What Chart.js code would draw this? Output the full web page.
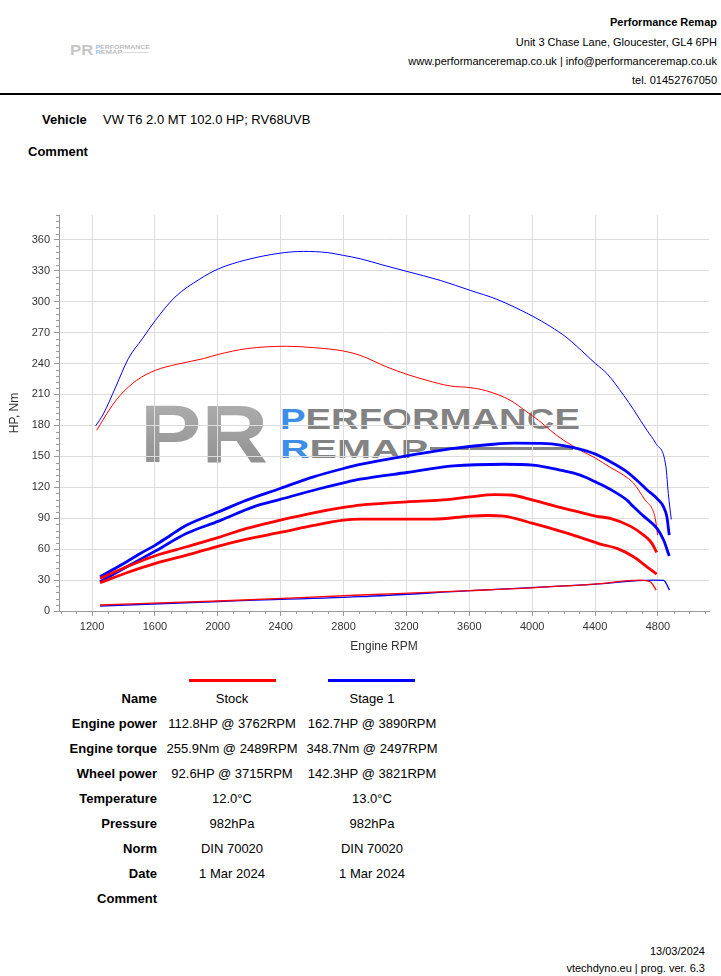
<!DOCTYPE html>
<html>
<head>
<meta charset="utf-8">
<script src="https://cdn.jsdelivr.net/npm/chart.js@4.4.1/dist/chart.umd.min.js"></script>
<style>
  body { margin: 0; background: #fff; font-family: 'Liberation Sans', Arial, sans-serif; color: #000; }
  #page { position: relative; width: 721px; height: 976px; overflow: hidden; }
  .abs { position: absolute; white-space: nowrap; }
  .hdr { right: 4px; font-size: 11px; line-height: 14px; }
  .lbl { left: 0; width: 157px; text-align: right; font-weight: bold; font-size: 13px; line-height: 16px; }
  .c1 { left: 162px; width: 140px; text-align: center; font-size: 13px; line-height: 16px; }
  .c2 { left: 302px; width: 140px; text-align: center; font-size: 13px; line-height: 16px; }
  #dyno { position: absolute; left: 0; top: 200px; }
</style>
</head>
<body>
<div id="page">
  <!-- kopf -->
  <svg class="abs" style="left:70px;top:44px;opacity:0.55" width="80" height="11" viewBox="0 0 440 60">
    <text x="0" y="59" font-family="Liberation Sans" font-weight="bold" font-size="82" fill="#999" textLength="128" lengthAdjust="spacingAndGlyphs">PR</text>
    <text x="140" y="26" font-family="Liberation Sans" font-weight="bold" font-size="29" fill="#888" textLength="300" lengthAdjust="spacingAndGlyphs"><tspan fill="#3d8ee6">P</tspan>ERFORMANCE</text>
    <text x="140" y="55" font-family="Liberation Sans" font-weight="bold" font-size="25" fill="#888" textLength="148" lengthAdjust="spacingAndGlyphs"><tspan fill="#3d8ee6">R</tspan>EMAP</text>
    <rect x="290" y="44" width="143" height="3" fill="#888"/>
  </svg>
  <div class="abs hdr" style="top:15px;font-weight:bold">Performance Remap</div>
  <div class="abs hdr" style="top:35px">Unit 3 Chase Lane, Gloucester, GL4 6PH</div>
  <div class="abs hdr" style="top:54px">www.performanceremap.co.uk | info@performanceremap.co.uk</div>
  <div class="abs hdr" style="top:73px">tel. 01452767050</div>
  <div class="abs" style="left:0;top:93px;width:721px;height:2px;background:#000"></div>

  <div class="abs" style="left:42px;top:112px;font-size:13px;line-height:16px;font-weight:bold">Vehicle</div>
  <div class="abs" style="left:103px;top:112px;font-size:13px;line-height:16px">VW T6 2.0 MT 102.0 HP; RV68UVB</div>
  <div class="abs" style="left:28px;top:144px;font-size:13px;line-height:16px;font-weight:bold">Comment</div>

  <!-- wasserzeichen hinter dem diagramm -->
  <svg class="abs" style="left:140px;top:403px" width="440" height="60" viewBox="0 0 440 60">
    <defs>
      <linearGradient id="g" x1="0" y1="0" x2="0" y2="1">
        <stop offset="0" stop-color="#b4b4b4"/>
        <stop offset="1" stop-color="#8a8a8a"/>
      </linearGradient>
    </defs>
    <text x="0" y="59" font-family="Liberation Sans" font-weight="bold" font-size="82" fill="url(#g)" textLength="128" lengthAdjust="spacingAndGlyphs">PR</text>
    <text x="140" y="26" font-family="Liberation Sans" font-weight="bold" font-size="29" fill="#838383" textLength="300" lengthAdjust="spacingAndGlyphs"><tspan fill="#3d8ee6">P</tspan>ERFORMANCE</text>
    <text x="140" y="55" font-family="Liberation Sans" font-weight="bold" font-size="25" fill="#838383" textLength="148" lengthAdjust="spacingAndGlyphs"><tspan fill="#3d8ee6">R</tspan>EMAP</text>
    <rect x="290" y="44" width="143" height="3" fill="#838383"/>
  </svg>

  <canvas id="dyno" width="721" height="470"></canvas>

  <!-- legende + tabelle -->
  <div class="abs" style="left:189px;top:679px;width:87px;height:3px;background:#ff0000"></div>
  <div class="abs" style="left:328px;top:679px;width:87px;height:3px;background:#0000ff"></div>

  <div class="abs lbl" style="top:691px">Name</div>
  <div class="abs c1" style="top:691px">Stock</div>
  <div class="abs c2" style="top:691px">Stage 1</div>
  <div class="abs lbl" style="top:716px">Engine power</div>
  <div class="abs c1" style="top:716px">112.8HP @ 3762RPM</div>
  <div class="abs c2" style="top:716px">162.7HP @ 3890RPM</div>
  <div class="abs lbl" style="top:741px">Engine torque</div>
  <div class="abs c1" style="top:741px">255.9Nm @ 2489RPM</div>
  <div class="abs c2" style="top:741px">348.7Nm @ 2497RPM</div>
  <div class="abs lbl" style="top:766px">Wheel power</div>
  <div class="abs c1" style="top:766px">92.6HP @ 3715RPM</div>
  <div class="abs c2" style="top:766px">142.3HP @ 3821RPM</div>
  <div class="abs lbl" style="top:791px">Temperature</div>
  <div class="abs c1" style="top:791px">12.0°C</div>
  <div class="abs c2" style="top:791px">13.0°C</div>
  <div class="abs lbl" style="top:816px">Pressure</div>
  <div class="abs c1" style="top:816px">982hPa</div>
  <div class="abs c2" style="top:816px">982hPa</div>
  <div class="abs lbl" style="top:841px">Norm</div>
  <div class="abs c1" style="top:841px">DIN 70020</div>
  <div class="abs c2" style="top:841px">DIN 70020</div>
  <div class="abs lbl" style="top:866px">Date</div>
  <div class="abs c1" style="top:866px">1 Mar 2024</div>
  <div class="abs c2" style="top:866px">1 Mar 2024</div>
  <div class="abs lbl" style="top:891px">Comment</div>

  <div class="abs" style="right:16px;top:944px;font-size:11px;line-height:14px">13/03/2024</div>
  <div class="abs" style="right:16px;top:961px;font-size:11px;line-height:14px">vtechdyno.eu | prog. ver. 6.3</div>
</div>

<script>
// Achsen
const rpmTicks = [1200, 1600, 2000, 2400, 2800, 3200, 3600, 4000, 4400, 4800];
const valueTicks = [0, 30, 60, 90, 120, 150, 180, 210, 240, 270, 300, 330, 360];

// Stock - Drehmoment (Nm)
const stockTorqueRpm = [1230, 1315, 1378, 1484, 1603, 1739, 1909, 2006, 2184, 2439, 2608, 2800, 2906, 3076, 3203, 3330, 3479, 3606, 3712, 3860, 3967, 4040, 4115, 4200, 4306, 4400, 4497, 4582, 4645, 4677, 4719, 4762, 4783, 4798];
const stockTorque = [175.3, 196.3, 209, 223.7, 233.4, 239.2, 244.7, 248.9, 254.4, 256.7, 255.4, 252.1, 247.9, 236.6, 229.5, 223.7, 218.2, 216.6, 213.4, 204.4, 193, 185, 175.3, 165.6, 155.9, 148.5, 139.2, 131.7, 124, 117.2, 107.5, 99.5, 89.8, 73.6];

// Stage 1 - Drehmoment (Nm)
const stage1TorqueRpm = [1223, 1272, 1350, 1431, 1520, 1603, 1728, 1887, 2006, 2184, 2397, 2545, 2700, 2800, 2906, 3050, 3203, 3415, 3606, 3776, 4005, 4115, 4221, 4403, 4476, 4582, 4645, 4688, 4730, 4787, 4851, 4866, 4885];
const stage1Torque = [179.5, 191, 217, 244.7, 264, 281.8, 304.4, 322, 331.9, 340.6, 347, 348.7, 347.5, 344.8, 341.6, 335.5, 329.3, 320.6, 310.9, 302.2, 285.7, 276, 265, 239.9, 230.2, 209.2, 195.3, 185, 175.3, 162.4, 139.8, 114, 88.8];

// Stage 1 - Motorleistung (HP)
const stage1PowerRpm = [1251, 1330, 1421, 1510, 1603, 1700, 1803, 2006, 2184, 2397, 2609, 2800, 2906, 3203, 3500, 3754, 3890, 4094, 4242, 4403, 4518, 4603, 4688, 4730, 4794, 4836, 4857, 4872];
const stage1Power = [33.2, 40, 47.8, 56, 63.9, 73.5, 83.3, 96.2, 107.5, 118.8, 130.1, 138.2, 142.1, 150.4, 157.6, 161.7, 162.7, 162.4, 159.1, 152.1, 143, 134.9, 123.7, 117.5, 109.1, 101, 91.3, 73.6];

// Stage 1 - Radleistung (HP)
const stage1WheelRpm = [1251, 1421, 1603, 1803, 2006, 2227, 2397, 2652, 2800, 2906, 3203, 3500, 3821, 4005, 4178, 4306, 4403, 4497, 4603, 4645, 4709, 4794, 4836, 4872];
const stage1Wheel = [28.4, 42.9, 58.1, 75.3, 87.2, 101, 108.2, 118.8, 124.3, 127.8, 134.3, 140.7, 142.3, 141.4, 136.6, 131.7, 125.2, 118, 107.5, 101, 92, 80.1, 68.8, 53.3];

// Stock - Motorleistung (HP)
const stockPowerRpm = [1251, 1421, 1603, 1803, 2006, 2184, 2397, 2609, 2800, 2906, 3203, 3415, 3606, 3762, 3860, 4005, 4178, 4306, 4403, 4497, 4624, 4709, 4762, 4792];
const stockPower = [31.7, 42.9, 53.6, 62.3, 71.4, 80.1, 88.1, 95.2, 100.4, 102.7, 105.9, 107.5, 110.7, 112.8, 112.5, 107.5, 100.4, 95.6, 92, 89.8, 82.3, 73.6, 65.6, 56.8];

// Stock - Radleistung (HP)
const stockWheelRpm = [1251, 1421, 1603, 1845, 2006, 2184, 2397, 2609, 2800, 2906, 3373, 3606, 3715, 3818, 4005, 4178, 4306, 4433, 4539, 4645, 4730, 4792];
const stockWheel = [27.4, 37.1, 46.2, 55.9, 63, 69.7, 76.2, 83, 88.1, 89.1, 89.1, 92, 92.6, 92, 84.9, 77.5, 71.4, 64.9, 60.7, 52.6, 42.9, 35.8];

// Verlustleistung (HP)
const stockLossRpm = [1251, 2006, 2906, 3606, 4391, 4688, 4751, 4789];
const stockLoss = [5.8, 9.7, 15.5, 19.7, 26.1, 30, 28.4, 20.3];
const stage1LossRpm = [1251, 2006, 2906, 3606, 4391, 4773, 4836, 4874];
const stage1Loss = [4.8, 9.2, 13.9, 19.7, 25.9, 30, 29.7, 20.3];

function pts(xs, ys) {
    return xs.map((x, i) => ({ x: x, y: ys[i] }));
}

function line(label, xs, ys, color, width) {
    return {
        label: label,
        data: pts(xs, ys),
        borderColor: color,
        borderWidth: width,
        pointRadius: 0,
        fill: false,
        cubicInterpolationMode: 'monotone'
    };
}

const RED = '#ff0000';
const BLUE = '#0000ff';

// kleine Teilstriche an den Achsen
const minorTicks = {
    id: 'minorTicks',
    afterDraw(chart) {
        const c = chart.ctx;
        const x = chart.scales.x, y = chart.scales.y, area = chart.chartArea;
        c.save();
        c.strokeStyle = '#999';
        c.lineWidth = 1;
        c.beginPath();
        for (let v = 0; v <= y.max; v += 6) {
            if (v % 30 === 0) continue;
            const py = Math.round(y.getPixelForValue(v)) + 0.5;
            c.moveTo(area.left - 3, py);
            c.lineTo(area.left, py);
        }
        for (let v = 1000; v <= x.max; v += 100) {
            if (v % 400 === 0) continue;
            const px = Math.round(x.getPixelForValue(v)) + 0.5;
            c.moveTo(px, area.bottom);
            c.lineTo(px, area.bottom + 3);
        }
        c.stroke();
        c.restore();
    }
};

const tickFont = { family: "'Liberation Sans', Arial, sans-serif", size: 11 };

new Chart(document.getElementById('dyno'), {
    type: 'line',
    data: {
        datasets: [
            line('Stock Verlust', stockLossRpm, stockLoss, RED, 1.3),
            line('Stage 1 Verlust', stage1LossRpm, stage1Loss, BLUE, 1.3),
            line('Stock Rad', stockWheelRpm, stockWheel, RED, 2.8),
            line('Stock Motor', stockPowerRpm, stockPower, RED, 2.8),
            line('Stage 1 Rad', stage1WheelRpm, stage1Wheel, BLUE, 2.8),
            line('Stage 1 Motor', stage1PowerRpm, stage1Power, BLUE, 2.8),
            line('Stock Nm', stockTorqueRpm, stockTorque, RED, 1),
            line('Stage 1 Nm', stage1TorqueRpm, stage1Torque, BLUE, 1)
        ]
    },
    options: {
        responsive: false,
        animation: false,
        events: [],
        layout: { padding: { top: 15, right: 12, bottom: 12, left: 3 } },
        plugins: { legend: { display: false }, tooltip: { enabled: false } },
        scales: {
            x: {
                type: 'linear',
                min: 990,
                max: 5125,
                afterBuildTicks: s => { s.ticks = rpmTicks.map(v => ({ value: v })); },
                afterFit: s => { s.height = 47; },
                grid: { color: '#dcdcdc', tickColor: '#999', tickLength: 5 },
                border: { color: '#999' },
                ticks: { font: tickFont, color: '#333', padding: 4, maxRotation: 0, autoSkip: false, callback: v => String(v) },
                title: { display: true, text: 'Engine RPM', font: { family: tickFont.family, size: 12 }, color: '#333' }
            },
            y: {
                min: 0,
                max: 384,
                afterBuildTicks: s => { s.ticks = valueTicks.map(v => ({ value: v })); },
                afterFit: s => { s.width = 56; },
                grid: { color: '#dcdcdc', tickColor: '#999', tickLength: 5 },
                border: { color: '#999' },
                ticks: { font: tickFont, color: '#333', padding: 4, callback: v => String(v) },
                title: { display: true, text: 'HP, Nm', font: { family: tickFont.family, size: 12 }, color: '#333' }
            }
        }
    },
    plugins: [minorTicks]
});
</script>
</body>
</html>
